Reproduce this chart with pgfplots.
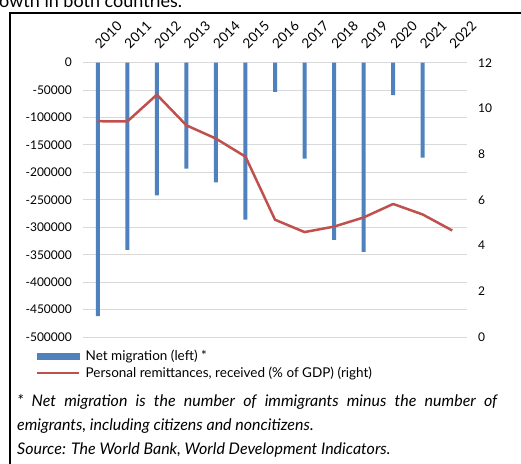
\documentclass[border=0pt]{standalone}
\usepackage{fontspec}
\setmainfont{Lato}
\usepackage{pgfplots}
\pgfplotsset{compat=1.18}
\definecolor{mblue}{HTML}{4F81BD}
\definecolor{mred}{HTML}{C0504D}
\definecolor{gridgray}{HTML}{D9D9D9}
\begin{document}
\begin{tikzpicture}[x=1pt,y=1pt]
\useasboundingbox (0,0) rectangle (521,463);
\node[anchor=base west, inner sep=0pt, font=\fontsize{18}{22}\selectfont] at (-1,455) {owth in both countries.};
\draw[line width=1.5pt] (10,-2) -- (10,450) -- (525,450);

% net migration, left axis
\begin{axis}[
  at={(83pt,126pt)}, anchor=south west,
  scale only axis, width=384pt, height=274.3pt,
  xmin=-0.5, xmax=12.5, ymin=-500000, ymax=0,
  axis line style={draw=none}, major tick style={draw=none},
  ytick={-500000,-450000,...,0}, scaled y ticks=false,
  ymajorgrids, grid style={gridgray, line width=1pt},
  xtick={0,...,12},
  xticklabels={2010,2011,2012,2013,2014,2015,2016,2017,2018,2019,2020,2021,2022},
  xticklabel pos=upper,
  xticklabel style={font=\fontsize{13.5}{15}\selectfont, inner sep=0pt, xshift=3pt, yshift=13pt, rotate=45, anchor=south west},
  yticklabel style={font=\fontsize{12}{14}\selectfont, inner sep=0pt, xshift=-11pt},
  /pgf/number format/.cd, fixed, precision=0, 1000 sep={}, assume math mode=true,
]
\addplot[ybar, bar width=4pt, fill=mblue, draw=none] coordinates {
  (0,-462000) (1,-341000) (2,-242000) (3,-193000) (4,-218000) (5,-286000)
  (6,-53000) (7,-175000) (8,-323000) (9,-345000) (10,-59000) (11,-173000)
};
\end{axis}

% remittances, right axis
\begin{axis}[
  at={(83pt,126pt)}, anchor=south west,
  scale only axis, width=384pt, height=274.3pt,
  xmin=-0.5, xmax=12.5, ymin=0, ymax=12,
  axis y line*=right, hide x axis,
  axis line style={draw=none}, major tick style={draw=none},
  ytick={0,2,...,12},
  yticklabel style={font=\fontsize{12}{14}\selectfont, anchor=west, inner sep=0pt, xshift=11pt},
  /pgf/number format/assume math mode=true,
  legend style={at={(-0.1224,-0.048)}, anchor=north west, draw=none, fill=none,
    inner sep=0pt, row sep=4.5pt, font=\fontsize{13.5}{15}\selectfont,
    cells={anchor=west}, nodes={inner sep=0pt},
    /tikz/every odd column/.append style={column sep=5pt}},
  legend cell align=left,
]
\addlegendimage{legend image code/.code={\fill[mblue] (0pt,-2.8pt) rectangle (42pt,2.8pt);}}
\addlegendentry{Net migration (left) *}
\addplot[mred, line width=2.5pt, line join=round,
  legend image code/.code={\draw[mred, line width=2.5pt] (0pt,0pt) -- (42pt,0pt);}]
  coordinates {
  (0,9.44) (1,9.43) (2,10.60) (3,9.26) (4,8.68) (5,7.89) (6,5.13)
  (7,4.59) (8,4.83) (9,5.23) (10,5.82) (11,5.36) (12,4.66)
};
\addlegendentry{Personal remittances, received (\% of GDP) (right)}
\end{axis}

\node[anchor=north west, inner sep=0pt, align=left,
  font=\fontsize{16}{24}\selectfont\itshape] at (17,69)
  {\makebox[480pt][s]{* Net migration is the number of immigrants minus the number of}\\
   emigrants, including citizens and noncitizens.\\
   Source: The World Bank, World Development Indicators.};
\end{tikzpicture}
\end{document}
